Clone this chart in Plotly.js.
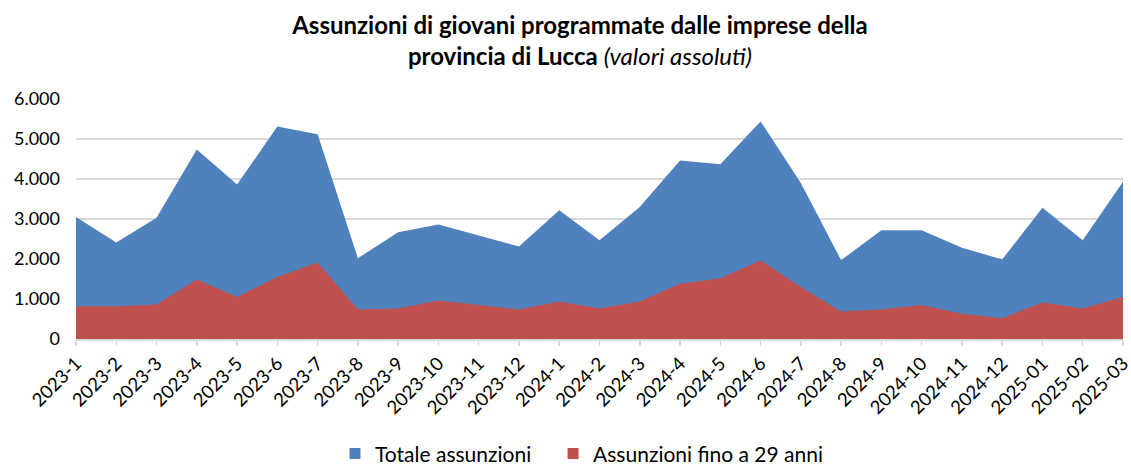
<!DOCTYPE html>
<html>
<head>
<meta charset="utf-8">
<script src="https://cdn.plot.ly/plotly-3.0.1.min.js"></script>
<style>html,body{margin:0;padding:0;background:#fff;}#chart{width:1131px;height:466px;}</style>
</head>
<body>
<div id="chart"></div>
<script>
const categories = ["2023-1","2023-2","2023-3","2023-4","2023-5","2023-6","2023-7","2023-8","2023-9","2023-10","2023-11","2023-12",
  "2024-1","2024-2","2024-3","2024-4","2024-5","2024-6","2024-7","2024-8","2024-9","2024-10","2024-11","2024-12",
  "2025-01","2025-02","2025-03"];
const totaleAssunzioni = [3050,2410,3030,4740,3860,5310,5120,2020,2670,2860,2590,2310,
  3220,2470,3300,4460,4370,5440,3900,1970,2720,2720,2280,1990,3280,2470,3930];
const assunzioniFino29 = [820,820,860,1490,1050,1550,1910,740,760,960,850,740,
  940,760,940,1380,1520,1960,1300,690,740,850,630,520,910,760,1050];
const seriesNames = ["Totale assunzioni", "Assunzioni fino a 29 anni"];
const seriesColors = ["#4F81BD", "#C0504D"];
const yTicks = [0,1000,2000,3000,4000,5000,6000];

const areaTraces = [totaleAssunzioni, assunzioniFino29].map((vals, i) => ({
  x: categories, y: vals, name: seriesNames[i], type: "scatter", mode: "lines",
  fill: "tozeroy", fillcolor: seriesColors[i], line: {width: 0, color: seriesColors[i]},
  showlegend: false, legendgroup: "g" + i
}));
// legend entries with square swatches (no data drawn)
const legendTraces = seriesNames.map((n, i) => ({
  x: [null], y: [null], name: n, type: "scatter", mode: "markers",
  marker: {symbol: "square", size: 11, color: seriesColors[i]},
  showlegend: true, legendgroup: "g" + i, hoverinfo: "skip",
  legend: i === 0 ? "legend" : "legend2"
}));

const legendBase = {orientation: "h", xref: "container", yref: "container", y: 0.026, yanchor: "middle",
  xanchor: "left", font: {size: 21, color: "#000"}, itemwidth: 30, bgcolor: "rgba(0,0,0,0)"};

const layout = {
  width: 1131, height: 466,
  margin: {l: 76, r: 8, t: 99, b: 127, autoexpand: false},
  paper_bgcolor: "#fff", plot_bgcolor: "#fff",
  separators: ",.",
  font: {family: "Lato, 'Open Sans', sans-serif", color: "#000", size: 16},
  title: {
    text: "<b>Assunzioni di giovani programmate dalle imprese della</b><br><b>provincia di Lucca</b> <i>(valori assoluti)</i>",
    font: {family: "Lato, sans-serif", size: 24, color: "#000"},
    x: 0.5128, xanchor: "center", y: 0.927, yanchor: "middle", xref: "container", yref: "container"
  },
  xaxis: {
    type: "category", range: [0, 26], tickangle: -45, automargin: false,
    tickfont: {size: 18.5, color: "#000"},
    showgrid: false, showline: true, linecolor: "#D9D9D9", linewidth: 1.5,
    ticks: "outside", ticklen: 5, tickcolor: "#D9D9D9", tickwidth: 1.5, zeroline: false
  },
  yaxis: {
    range: [0, 6000], tickvals: yTicks, tickformat: ",.0f", automargin: false,
    tickfont: {size: 18, color: "#000"},
    showgrid: true, gridcolor: "#D9D9D9", gridwidth: 1.5,
    showline: false, zeroline: false, ticks: "", ticklabelstandoff: 15
  },
  showlegend: true,
  legend: Object.assign({}, legendBase, {x: 0.2962}),
  legend2: Object.assign({}, legendBase, {x: 0.489})
};

Plotly.newPlot("chart", areaTraces.concat(legendTraces), layout, {displayModeBar: false, staticPlot: true});
</script>
</body>
</html>
